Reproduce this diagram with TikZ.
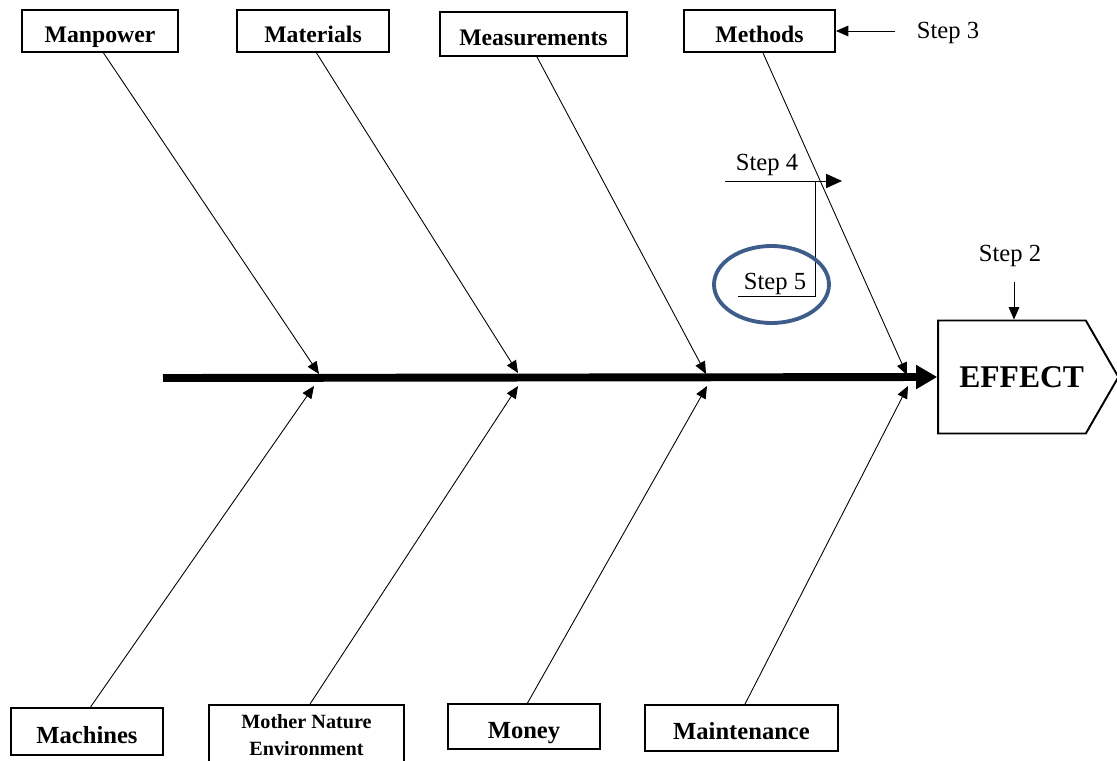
\documentclass[tikz,border=0pt]{standalone}
\usepackage{fontspec}
\setmainfont{Liberation Serif}
\usetikzlibrary{arrows.meta,shapes.geometric,shapes.symbols}
\definecolor{ringblue}{RGB}{62,93,138}
\begin{document}
\begin{tikzpicture}[
  x=0.02cm, y=-0.02cm,
  cause/.style={rectangle, draw, line width=1.1pt, inner sep=1pt, font=\bfseries\fontsize{13.5}{15}\selectfont, align=center},
  onecause/.style={cause, text height=13pt, text depth=0pt},
  lowcause/.style={cause, text height=13.5pt, text depth=0pt, font=\bfseries\fontsize{14}{16}\selectfont},
  bone/.style={-{Triangle[length=7pt,width=6pt]}, line width=0.5pt},
  steptext/.style={font=\fontsize{14}{16}\selectfont, inner sep=1pt},
  font=\fontsize{14}{16}\selectfont
]
\useasboundingbox (0,0) rectangle (1117,761);

\node[onecause, minimum width=3.12cm, minimum height=0.84cm] (manpower) at (100,31) {Manpower};
\node[onecause, minimum width=3.04cm, minimum height=0.84cm] (materials) at (313,31) {Materials};
\node[onecause, minimum width=3.74cm, minimum height=0.88cm] (measure) at (533.5,34) {Measurements};
\node[onecause, minimum width=3.02cm, minimum height=0.84cm] (methods) at (759.5,31) {Methods};

\node[lowcause, minimum width=3.04cm, minimum height=0.94cm] (machines) at (87,731.5) {Machines};
\node[cause, minimum width=3.9cm, minimum height=1.2cm, font=\bfseries\fontsize{11.5}{15.3}\selectfont] (nature) at (306.5,735) {Mother Nature\\Environment};
\node[lowcause, minimum width=3.04cm, minimum height=0.9cm] (money) at (524,726.5) {Money};
\node[lowcause, minimum width=3.86cm, minimum height=0.92cm] (maint) at (741.5,728) {Maintenance};

\node[signal, signal to=east, signal pointer angle=120, draw, line width=1.1pt, inner xsep=1pt, minimum width=3.54cm, minimum height=2.26cm, font=\bfseries\fontsize{18}{20}\selectfont] (effect) at (1012,377) {\hspace*{11pt}EFFECT};

\coordinate (tail) at (163,378);
\draw[line width=4.5pt, -{Triangle[length=12pt,width=13pt]}] (tail) -- (effect.west);

\coordinate (jmanpower) at (319,374);
\coordinate (jmaterials) at (518,373);
\coordinate (jmeasure) at (706,374);
\coordinate (jmethods) at (907,375);
\coordinate (jmachines) at (314,386);
\coordinate (jnature) at (518,386);
\coordinate (jmoney) at (707,386);
\coordinate (jmaint) at (908,386);

\draw[bone] ([xshift=2]manpower.south) -- (jmanpower);
\draw[bone] ([xshift=2]materials.south) -- (jmaterials);
\draw[bone] ([xshift=2]measure.south) -- (jmeasure);
\draw[bone] ([xshift=2]methods.south) -- (jmethods);
\draw[bone] ([xshift=2]machines.north) -- (jmachines);
\draw[bone] ([xshift=2]nature.north) -- (jnature);
\draw[bone] ([xshift=2]money.north) -- (jmoney);
\draw[bone] ([xshift=2]maint.north) -- (jmaint);

\node[steptext] (step3) at (948,33) {Step 3};
\draw[bone, shorten <=11pt] (step3.west |- methods.east) -- (methods.east);

\node[steptext] (step2) at (1010,256) {Step 2};
\coordinate (s2top) at (1014,282);
\draw[bone] (s2top) -- (s2top |- effect.north);

\node[steptext] (step4) at (767,165) {Step 4};
\coordinate (s4start) at (725,181);
\coordinate (s4end) at (842,181);
\coordinate (s4turn) at (815,181);
\coordinate (s5end) at (738,296);
\draw[-{Triangle[length=9pt,width=8pt]}, line width=0.5pt] (s4start) -- (s4end);
\draw[line width=0.5pt] (s4turn) |- (s5end);

\node[ellipse, draw=ringblue, line width=2.2pt, minimum width=2.3cm, minimum height=1.54cm] (ring) at (771.5,284.5) {};
\node[steptext] (step5) at (775,284) {Step 5};
\end{tikzpicture}
\end{document}
